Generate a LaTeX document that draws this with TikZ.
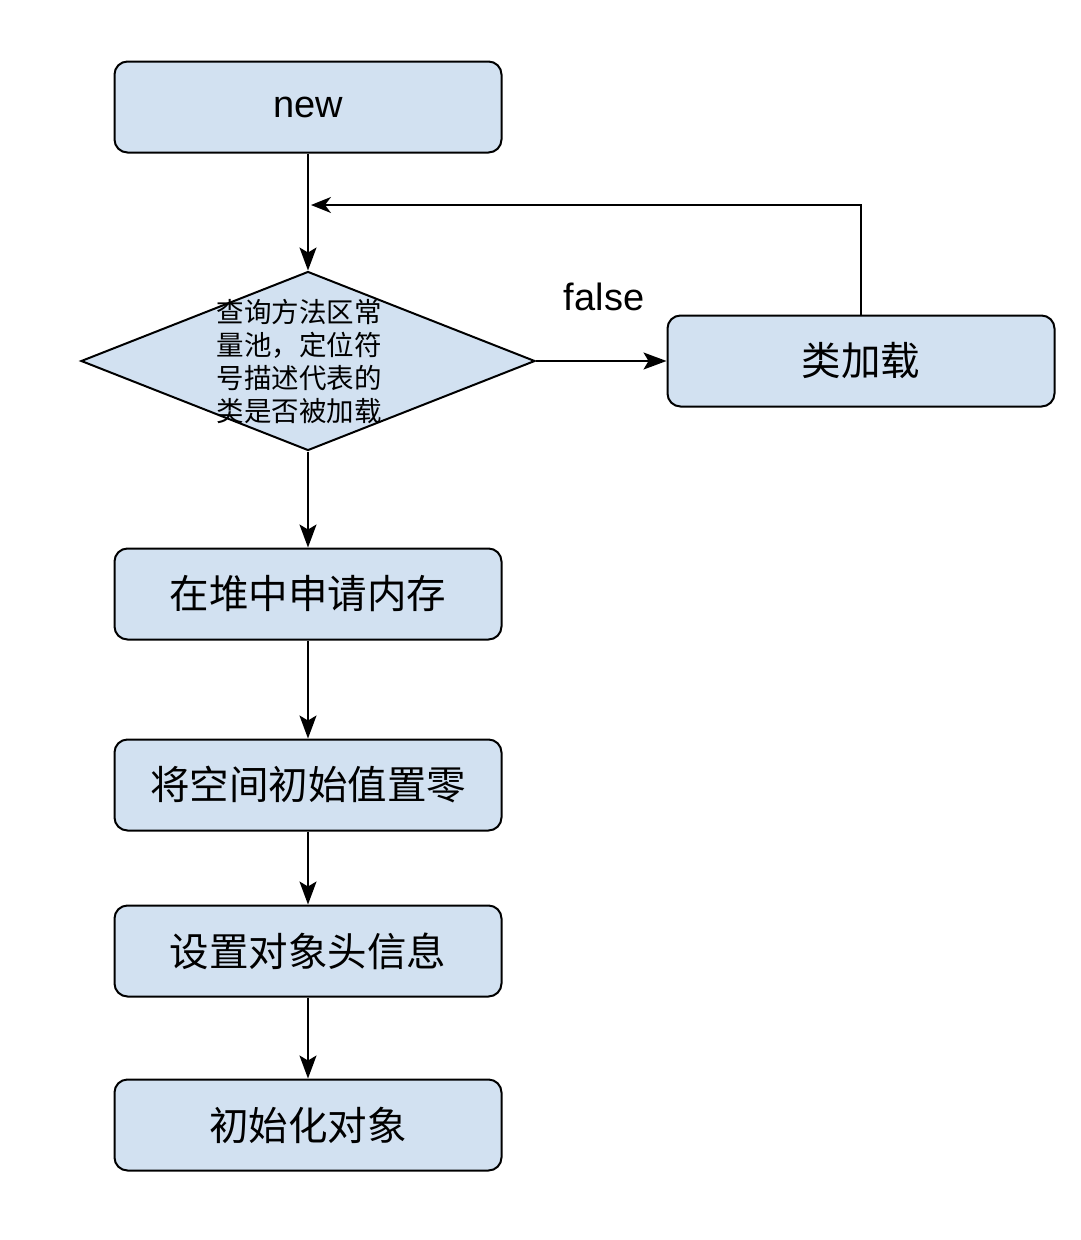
\documentclass[tikz,border=0pt]{standalone}
\usepackage{fontspec}
\setmainfont{Liberation Sans}
\newfontfamily\cjk{Noto Sans CJK SC}
\usepackage{tikz}
\usetikzlibrary{shapes.geometric,arrows.meta}
\definecolor{boxblue}{RGB}{210,225,241}

\begin{document}
\begin{tikzpicture}[x=1pt,y=-1pt]
\tikzstyle{StepBox}=[draw=black, fill=boxblue, line width=2pt, rounded corners=13pt, minimum width=387pt, minimum height=91pt, font=\cjk\fontsize{39.5}{46}\selectfont]
\tikzstyle{CheckShape}=[draw=black, fill=boxblue, line width=2pt, diamond, minimum width=454pt, minimum height=179pt, inner sep=-30pt, align=center, font=\cjk\fontsize{27.5}{33}\selectfont]
\tikzstyle{Arrow}=[line width=2pt, -{Stealth[length=23pt,width=17pt,inset=5pt]}]
\tikzstyle{BackArrow}=[line width=2pt, -{Stealth[length=20pt,width=16pt,inset=6pt]}]

\useasboundingbox[fill=white] (0,0) rectangle (1080,1240);

\node[StepBox, font=\fontsize{38}{44}\selectfont] (new) at (308,107) {new};
\node[CheckShape] (check) at (308,361) {\hspace*{-18pt}查询方法区常\\\hspace*{-18pt}量池，定位符\\\hspace*{-18pt}号描述代表的\\\hspace*{-18pt}类是否被加载};
\node[StepBox] (load) at (861,361) {类加载};
\node[StepBox] (alloc) at (308,594) {在堆中申请内存};
\node[StepBox] (zero) at (308,785) {将空间初始值置零};
\node[StepBox] (header) at (308,951) {设置对象头信息};
\node[StepBox] (init) at (308,1125) {初始化对象};

\node[font=\fontsize{38}{44}\selectfont] (falselbl) at (604,297) {false};

\coordinate (loopend) at (311,205);

\draw[Arrow] (new) -- (check);
\draw[Arrow] (check.east) -- (load.west);
\draw[BackArrow] (load.north) |- (loopend);
\draw[Arrow] (check.south) -- (alloc.north);
\draw[Arrow] (alloc) -- (zero);
\draw[Arrow] (zero) -- (header);
\draw[Arrow] (header) -- (init);
\end{tikzpicture}
\end{document}
